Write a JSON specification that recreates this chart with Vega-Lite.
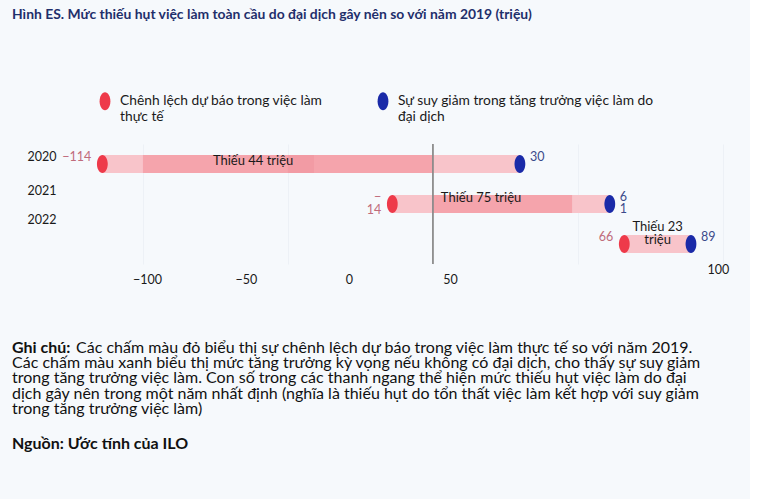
{
  "$schema": "https://vega.github.io/schema/vega-lite/v6.json",
  "background": "#f6f9fc",
  "padding": {"top": 8, "left": 0, "right": 10, "bottom": 50},
  "title": {
    "text": "Hình ES.  Mức thiếu hụt việc làm toàn cầu do đại dịch gây nên so với năm 2019 (triệu)",
    "anchor": "start",
    "dx": 12,
    "fontSize": 13.9,
    "fontWeight": "bold",
    "color": "#1f2f6b",
    "font": "Lato",
    "offset": 70
  },
  "config": {
    "font": "Lato",
    "view": {"stroke": null},
    "concat": {"spacing": 54}
  },
  "vconcat": [
    {
      "width": 680,
      "height": 120,
      "data": {
        "values": [
          {"nam": "2020", "thuc_te": -114, "ky_vong": 30, "dam_tu": -100, "dam_den": 0, "dam2_tu": -50, "dam2_den": -41, "nhan_do": "−114", "nhan_xanh": "30", "nhan_thanh": "Thiếu 44 triệu"},
          {"nam": "2021", "thuc_te": -14, "ky_vong": 61, "dam_tu": 0, "dam_den": 48, "dam2_tu": null, "dam2_den": null, "nhan_do": "−\n14", "nhan_xanh": "6\n1", "nhan_thanh": "Thiếu 75 triệu"},
          {"nam": "2022", "thuc_te": 66, "ky_vong": 89, "dam_tu": null, "dam_den": null, "dam2_tu": null, "dam2_den": null, "nhan_do": "66", "nhan_xanh": "89", "nhan_thanh": "Thiếu 23\ntriệu"}
        ]
      },
      "layer": [
        {
          "mark": {"type": "bar", "height": 18, "color": "#f8c4ca"},
          "encoding": {
            "y": {
              "field": "nam",
              "type": "ordinal",
              "scale": {"paddingInner": 0, "paddingOuter": 0},
              "axis": {
                "title": null,
                "domain": false,
                "ticks": false,
                "grid": false,
                "labelPadding": 4,
                "minExtent": 60,
                "maxExtent": 60,
                "labelFontSize": 12.5,
                "labelColor": "#1a1a1a",
                "labelOffset": {
                  "condition": [
                    {"test": "datum.value == '2020'", "value": -7},
                    {"test": "datum.value == '2021'", "value": -13}
                  ],
                  "value": -24
                }
              }
            },
            "x": {
              "field": "thuc_te",
              "type": "quantitative",
              "scale": {"domain": [-128.6, 105.9], "nice": false, "zero": false},
              "axis": {
                "title": null,
                "values": [-100, -50, 0, 50, 100],
                "domain": false,
                "ticks": false,
                "grid": true,
                "gridColor": "#edf1f6",
                "labelFontSize": 12.5,
                "labelColor": "#1a1a1a",
                "labelPadding": {
                  "condition": {"test": "datum.value == 100", "value": -1},
                  "value": 9
                },
                "labelOffset": {
                  "condition": [
                    {"test": "datum.value == -50", "value": -42},
                    {"test": "datum.value == 0", "value": -84},
                    {"test": "datum.value == 50", "value": -128},
                    {"test": "datum.value == 100", "value": -5}
                  ],
                  "value": 4
                }
              }
            },
            "x2": {"field": "ky_vong"}
          }
        },
        {
          "transform": [{"filter": "isValid(datum.dam_tu)"}],
          "mark": {"type": "bar", "height": 18, "color": "#f5a4ac"},
          "encoding": {
            "y": {"field": "nam", "type": "ordinal"},
            "x": {"field": "dam_tu", "type": "quantitative"},
            "x2": {"field": "dam_den"}
          }
        },
        {
          "transform": [{"filter": "isValid(datum.dam2_tu)"}],
          "mark": {"type": "bar", "height": 18, "color": "#f29ba4"},
          "encoding": {
            "y": {"field": "nam", "type": "ordinal"},
            "x": {"field": "dam2_tu", "type": "quantitative"},
            "x2": {"field": "dam2_den"}
          }
        },
        {
          "mark": {"type": "rule", "color": "#8a8a8a", "strokeWidth": 1},
          "encoding": {"x": {"datum": 0, "type": "quantitative"}}
        },
        {
          "transform": [{"fold": ["thuc_te", "ky_vong"], "as": ["loai", "gia_tri"]}],
          "mark": {
            "type": "point",
            "filled": true,
            "opacity": 1,
            "size": 324,
            "shape": "M -0.6 0 A 0.6 1 0 1 0 0.6 0 A 0.6 1 0 1 0 -0.6 0 Z"
          },
          "encoding": {
            "y": {"field": "nam", "type": "ordinal"},
            "x": {"field": "gia_tri", "type": "quantitative"},
            "color": {
              "field": "loai",
              "type": "nominal",
              "scale": {"domain": ["thuc_te", "ky_vong"], "range": ["#ee3a4a", "#1a2aa8"]},
              "legend": {
                "title": null,
                "orient": "none",
                "legendX": 36,
                "legendY": -52,
                "direction": "horizontal",
                "symbolType": "M -0.6 0 A 0.6 1 0 1 0 0.6 0 A 0.6 1 0 1 0 -0.6 0 Z",
                "symbolSize": 324,
                "symbolStrokeWidth": 0,
                "labelFontSize": 13.8,
                "labelColor": "#1a1a1a",
                "labelOffset": 6,
                "labelLimit": 400,
                "columnPadding": 51,
                "labelExpr": "datum.value == 'thuc_te' ? ['Chênh lệch dự báo trong việc làm', 'thực tế'] : ['Sự suy giảm trong tăng trưởng việc làm do', 'đại dịch']",
                "encode": {
                  "labels": {"update": {"dy": {"value": -8}, "lineHeight": {"value": 13}}}
                }
              }
            }
          }
        },
        {
          "mark": {"type": "text", "align": "right", "baseline": "middle", "dx": -11, "dy": -7, "fontSize": 12.5, "color": "#c06b7b", "lineBreak": "\n", "lineHeight": 13},
          "encoding": {
            "y": {"field": "nam", "type": "ordinal"},
            "x": {"field": "thuc_te", "type": "quantitative"},
            "text": {"field": "nhan_do"}
          }
        },
        {
          "mark": {"type": "text", "align": "left", "baseline": "middle", "dx": 10, "dy": -7, "fontSize": 12.5, "color": "#3b4a8a", "lineBreak": "\n", "lineHeight": 12},
          "encoding": {
            "y": {"field": "nam", "type": "ordinal"},
            "x": {"field": "ky_vong", "type": "quantitative"},
            "text": {"field": "nhan_xanh"}
          }
        },
        {
          "transform": [
            {"filter": "datum.nam == '2020'"},
            {"fold": ["thuc_te", "ky_vong"], "as": ["loai", "gia_tri"]},
            {"aggregate": [{"op": "mean", "field": "gia_tri", "as": "giua"}], "groupby": ["nam", "nhan_thanh"]}
          ],
          "mark": {"type": "text", "align": "center", "baseline": "middle", "dx": -58, "dy": -3, "fontSize": 13, "color": "#1a1a1a", "lineBreak": "\n", "lineHeight": 13},
          "encoding": {
            "y": {"field": "nam", "type": "ordinal"},
            "x": {"field": "giua", "type": "quantitative"},
            "text": {"field": "nhan_thanh"}
          }
        },
        {
          "transform": [
            {"filter": "datum.nam == '2021'"},
            {"fold": ["thuc_te", "ky_vong"], "as": ["loai", "gia_tri"]},
            {"aggregate": [{"op": "mean", "field": "gia_tri", "as": "giua"}], "groupby": ["nam", "nhan_thanh"]}
          ],
          "mark": {"type": "text", "align": "center", "baseline": "middle", "dx": -20, "dy": -6, "fontSize": 13, "color": "#1a1a1a", "lineBreak": "\n", "lineHeight": 13},
          "encoding": {
            "y": {"field": "nam", "type": "ordinal"},
            "x": {"field": "giua", "type": "quantitative"},
            "text": {"field": "nhan_thanh"}
          }
        },
        {
          "transform": [
            {"filter": "datum.nam == '2022'"},
            {"fold": ["thuc_te", "ky_vong"], "as": ["loai", "gia_tri"]},
            {"aggregate": [{"op": "mean", "field": "gia_tri", "as": "giua"}], "groupby": ["nam", "nhan_thanh"]}
          ],
          "mark": {"type": "text", "align": "center", "baseline": "middle", "dy": -17, "fontSize": 13, "color": "#1a1a1a", "lineBreak": "\n", "lineHeight": 13},
          "encoding": {
            "y": {"field": "nam", "type": "ordinal"},
            "x": {"field": "giua", "type": "quantitative"},
            "text": {"field": "nhan_thanh"}
          }
        }
      ]
    },
    {
      "width": 680,
      "height": 60.8,
      "data": {
        "values": [
          {"dong": 1, "dau": "Ghi chú:", "chu": "Các chấm màu đỏ biểu thị sự chênh lệch dự báo trong việc làm thực tế so với năm 2019."},
          {"dong": 2, "dau": "", "chu": "Các chấm màu xanh biểu thị mức tăng trưởng kỳ vọng nếu không có đại dịch, cho thấy sự suy giảm"},
          {"dong": 3, "dau": "", "chu": "trong tăng trưởng việc làm. Con số trong các thanh ngang thể hiện mức thiếu hụt việc làm do đại"},
          {"dong": 4, "dau": "", "chu": "dịch gây nên trong một năm nhất định (nghĩa là thiếu hụt do tổn thất việc làm kết hợp với suy giảm"},
          {"dong": 5, "dau": "", "chu": "trong tăng trưởng việc làm)"},
          {"dong": 6, "dau": "", "chu": "Nguồn: Ước tính của ILO"}
        ]
      },
      "encoding": {
        "y": {"field": "dong", "type": "ordinal", "scale": {"type": "point", "padding": 0, "domain": [1, 2, 3, 4, 5]}, "axis": null},
        "x": {"datum": 0, "type": "quantitative", "scale": {"domain": [0, 1]}, "axis": null}
      },
      "layer": [
        {
          "transform": [{"filter": "datum.dong >= 2 && datum.dong <= 5"}],
          "mark": {"type": "text", "align": "left", "baseline": "middle", "dx": -48, "fontSize": 16, "color": "#111111"},
          "encoding": {"text": {"field": "chu"}}
        },
        {
          "transform": [{"filter": "datum.dong == 1"}],
          "mark": {"type": "text", "align": "left", "baseline": "middle", "dx": 16, "fontSize": 16, "color": "#111111"},
          "encoding": {"text": {"field": "chu"}}
        },
        {
          "transform": [{"filter": "datum.dong == 1"}],
          "mark": {"type": "text", "align": "left", "baseline": "middle", "dx": -48, "fontSize": 16, "fontWeight": "bold", "color": "#111111"},
          "encoding": {"text": {"field": "dau"}}
        },
        {
          "transform": [{"filter": "datum.dong == 5"}],
          "mark": {"type": "text", "align": "left", "baseline": "middle", "dx": -48, "dy": 35, "fontSize": 16, "fontWeight": "bold", "color": "#111111"},
          "encoding": {"text": {"value": "Nguồn: Ước tính của ILO"}}
        }
      ]
    }
  ]
}
